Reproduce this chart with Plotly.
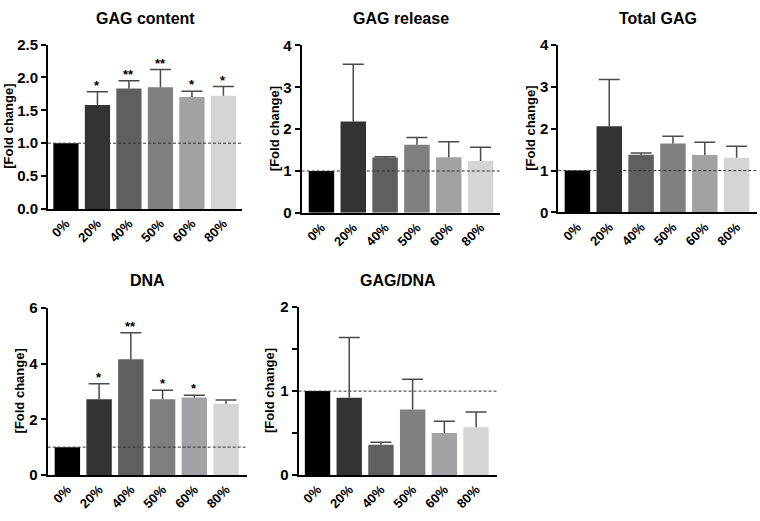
import plotly.graph_objects as go

categories = ["0%", "20%", "40%", "50%", "60%", "80%"]
bar_colors = ["#000000", "#333333", "#5f5f5f", "#7f7f7f", "#a2a2a5", "#d5d5d5"]

gag_content_mean = [1.0, 1.58, 1.83, 1.85, 1.70, 1.72]
gag_content_sd = [0.0, 0.20, 0.12, 0.27, 0.09, 0.14]
gag_content_sig = ["", "*", "**", "**", "*", "*"]

gag_release_mean = [1.0, 2.18, 1.32, 1.63, 1.33, 1.24]
gag_release_sd = [0.0, 1.37, 0.02, 0.17, 0.37, 0.33]

total_gag_mean = [1.0, 2.06, 1.38, 1.65, 1.37, 1.31]
total_gag_sd = [0.0, 1.12, 0.04, 0.17, 0.31, 0.27]

dna_mean = [1.0, 2.72, 4.16, 2.72, 2.78, 2.56]
dna_sd = [0.0, 0.56, 0.95, 0.32, 0.08, 0.13]
dna_sig = ["", "*", "**", "*", "*", ""]

gag_dna_mean = [1.0, 0.92, 0.36, 0.78, 0.50, 0.57]
gag_dna_sd = [0.0, 0.72, 0.03, 0.36, 0.14, 0.18]

W, H = 760, 521
FONT = "Arial, 'Liberation Sans', sans-serif"
ERR_COLOR = "#4a4a4a"

panels = [
    dict(title="GAG content", mean=gag_content_mean, sd=gag_content_sd, sig=gag_content_sig,
         yr=[0, 2.5], tv=[0, 0.5, 1.0, 1.5, 2.0, 2.5], tt=["0.0", "0.5", "1.0", "1.5", "2.0", "2.5"],
         box=(48, 242, 36.7, 206.7), xr=[-0.57, 5.59], ytx=9, tty=10),
    dict(title="GAG release", mean=gag_release_mean, sd=gag_release_sd, sig=None,
         yr=[0, 4], tv=[0, 1, 2, 3, 4], tt=["0", "1", "2", "3", "4"],
         box=(301.7, 500, 37.7, 210.7), xr=[-0.62, 5.61], ytx=274, tty=10),
    dict(title="Total GAG", mean=total_gag_mean, sd=total_gag_sd, sig=None,
         yr=[0, 4], tv=[0, 1, 2, 3, 4], tt=["0", "1", "2", "3", "4"],
         box=(558.3, 756.7, 37.3, 210.3), xr=[-0.6, 5.63], ytx=531, tty=10),
    dict(title="DNA", mean=dna_mean, sd=dna_sd, sig=dna_sig,
         yr=[0, 6], tv=[0, 2, 4, 6], tt=["0", "2", "4", "6"],
         box=(47.7, 247.3, 309, 481.7), xr=[-0.62, 5.67], ytx=19, tty=281),
    dict(title="GAG/DNA", mean=gag_dna_mean, sd=gag_dna_sd, sig=None,
         yr=[0, 2], tv=[0, 0.5, 1, 1.5, 2], tt=["0", "", "1", "", "2"],
         box=(298.5, 497.3, 308.3, 481.7), xr=[-0.6, 5.67], ytx=269, tty=281),
]

fig = go.Figure()
annotations = []
shapes = []
layout = {}

for i, p in enumerate(panels, start=1):
    xa = "x" if i == 1 else f"x{i}"
    ya = "y" if i == 1 else f"y{i}"
    xk = "xaxis" if i == 1 else f"xaxis{i}"
    yk = "yaxis" if i == 1 else f"yaxis{i}"
    x0, x1, yt, yb = p["box"]
    fig.add_trace(go.Bar(
        x=categories, y=p["mean"], marker=dict(color=bar_colors, line=dict(width=0)),
        xaxis=xa, yaxis=ya, showlegend=False, hoverinfo="skip",
    ))
    # upper-only error bars: stem + cap
    ex, ey, cx, cy = [], [], [], []
    for c, m, s in zip(categories, p["mean"], p["sd"]):
        if s > 0:
            ex += [c, c, None]
            ey += [m, m + s, None]
            cx.append(c)
            cy.append(m + s)
    fig.add_trace(go.Scatter(x=ex, y=ey, mode="lines", line=dict(color=ERR_COLOR, width=1.5),
                             xaxis=xa, yaxis=ya, showlegend=False, hoverinfo="skip"))
    fig.add_trace(go.Scatter(x=cx, y=cy, mode="markers",
                             marker=dict(symbol="line-ew", size=15, line=dict(color=ERR_COLOR, width=1.5)),
                             xaxis=xa, yaxis=ya, showlegend=False, hoverinfo="skip"))
    layout[xk] = dict(
        domain=[x0 / W, x1 / W], anchor=ya, type="category", range=p["xr"],
        showline=True, linecolor="#000000", linewidth=2, ticks="",
        tickangle=-45, tickfont=dict(family=FONT, size=13, color="#000000", weight="bold"),
        showgrid=False, zeroline=False, fixedrange=True,
    )
    layout[yk] = dict(
        domain=[1 - yb / H, 1 - yt / H], anchor=xa, range=p["yr"],
        tickvals=p["tv"], ticktext=p["tt"],
        showline=True, linecolor="#000000", linewidth=2,
        ticks="outside", ticklen=5, tickwidth=2, tickcolor="#000000",
        tickfont=dict(family=FONT, size=15, color="#000000", weight="bold"),
        showgrid=False, zeroline=False, fixedrange=True,
    )
    shapes.append(dict(type="line", xref=f"{xa} domain", yref=ya, x0=0, x1=1, y0=1, y1=1,
                       line=dict(color="#333333", width=1, dash="3px,2px"), layer="above"))
    annotations.append(dict(text=p["title"], xref="paper", yref="paper",
                            x=(x0 + x1) / 2 / W, y=1 - p["tty"] / H, xanchor="center", yanchor="middle",
                            showarrow=False, font=dict(family=FONT, size=16, color="#000000", weight="bold")))
    annotations.append(dict(text="[Fold change]", xref="paper", yref="paper",
                            x=p["ytx"] / W, y=1 - (yt + yb) / 2 / H, xanchor="center", yanchor="middle",
                            textangle=-90, showarrow=False,
                            font=dict(family=FONT, size=13, color="#000000", weight="bold")))
    if p["sig"]:
        for c, m, s, g in zip(categories, p["mean"], p["sd"], p["sig"]):
            if g:
                annotations.append(dict(text=g, xref=xa, yref=ya, x=c, y=m + s,
                                        xanchor="center", yanchor="bottom", yshift=-3, showarrow=False,
                                        font=dict(family=FONT, size=13, color="#000000", weight="bold")))

fig.update_layout(
    width=W, height=H, margin=dict(l=0, r=0, t=0, b=0),
    paper_bgcolor="#ffffff", plot_bgcolor="#ffffff",
    bargap=0.2, annotations=annotations, shapes=shapes, **layout,
)

fig.write_html("out.html", config={"displayModeBar": False},
               post_script="document.body.style.margin='0';document.body.style.overflow='hidden';")
